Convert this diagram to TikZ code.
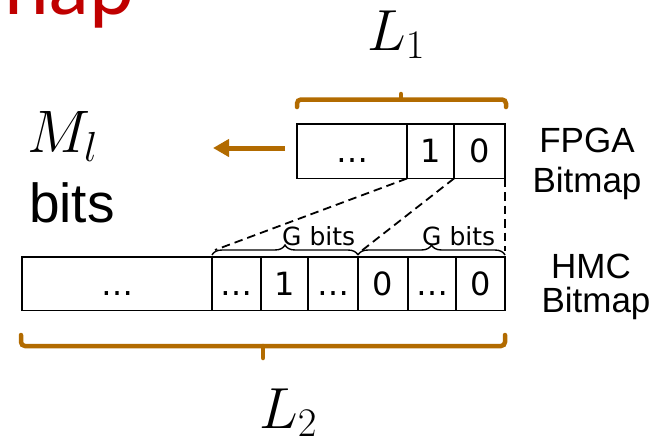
\RequirePackage{fix-cm}
\documentclass[tikz,border=0pt]{standalone}
\usepackage{fontspec}
\newfontfamily\dvs{DejaVu Sans}
\newfontfamily\lib{Liberation Sans}
\newfontfamily\carl{Carlito}
\usetikzlibrary{decorations.pathreplacing,arrows.meta}
\definecolor{obrown}{RGB}{178,107,0}
\definecolor{tred}{RGB}{192,0,0}
\begin{document}
\begin{tikzpicture}[x=1pt,y=-1pt,
  cellbox/.style={draw, line width=1.8pt, inner sep=0pt, outer sep=0pt,
    text height=23.3pt, text depth=0pt, font=\dvs\fontsize{32}{32}\selectfont},
  fcell/.style={cellbox, minimum height=54.5pt},
  hcell/.style={cellbox, minimum height=53.5pt},
  gbrace/.style={decorate, decoration={brace, amplitude=10pt}, line width=1.4pt},
  gbtext/.style={anchor=base west, inner sep=0pt, font=\dvs\fontsize{25}{25}\selectfont},
  dashconn/.style={line width=1.8pt, dash pattern=on 8.5pt off 5pt},
  obr/.style={draw=obrown, line width=4.5pt, rounded corners=4pt, line cap=round},
  lab/.style={anchor=base, inner sep=0pt, font=\lib\fontsize{35}{35}\selectfont},
  mathlab/.style={anchor=base west, inner sep=0pt, font=\fontsize{58}{60}\selectfont}
]
\useasboundingbox (0,0) rectangle (659,442);

% red title fragment
\node[anchor=base west, inner sep=0pt, text=tred, font=\carl\fontsize{85}{85}\selectfont] (title) at (4,14) {nap};

% FPGA bitmap
\node[fcell, minimum width=110pt] (f0) at (352,151.25) {…};
\node[fcell, minimum width=47pt] (f1) at (430.5,151.25) {1};
\node[fcell, minimum width=51pt] (f2) at (479.5,151.25) {0};

% HMC bitmap
\node[hcell, minimum width=190pt] (h0) at (117,283.75) {…};
\node[hcell, minimum width=49pt] (h1) at (236.5,283.75) {…};
\node[hcell, minimum width=47pt] (h2) at (284.5,283.75) {1};
\node[hcell, minimum width=50pt] (h3) at (333,283.75) {…};
\node[hcell, minimum width=50pt] (h4) at (383,283.75) {0};
\node[hcell, minimum width=48pt] (h5) at (432,283.75) {…};
\node[hcell, minimum width=49pt] (h6) at (480.5,283.75) {0};

% G bits braces
\draw[gbrace] ([yshift=2pt]h1.north west) -- ([yshift=2pt]h3.north east);
\draw[gbrace] ([yshift=2pt]h4.north west) -- ([yshift=2pt]h6.north east);
\node[gbtext] (gb1) at (282,245) {G bits};
\node[gbtext] (gb2) at (422,245) {G bits};

% dashed mapping lines
\coordinate (g1end) at (215,250);
\coordinate (g2end) at (360,252);
\coordinate (g3end) at (505,251);
\draw[dashconn] (f1.south west) -- (g1end);
\draw[dashconn] (f2.south west) -- (g2end);
\draw[dashconn] (f2.south east) -- (g3end);

% orange brackets
\draw[obr] (297,107) |- (401,99.5) -| (506,107);
\draw[obr] (401,99.5) -- (401,94);
\draw[obr] (21,335) |- (263,346) -| (505,335);
\draw[obr] (263,346) -- (263,358);

% arrow
\coordinate (arrS) at (285,148);
\coordinate (arrE) at (213,148);
\draw[draw=obrown, line width=5pt, -{Triangle[length=16pt,width=17pt]}] (arrS) -- (arrE);

% labels
\node[mathlab] (L1) at (367,50) {$L_1$};
\node[mathlab] (L2) at (259,428) {$L_2$};
\node[mathlab, font=\fontsize{60}{62}\selectfont] (Ml) at (27,152) {$M_l$};
\node[anchor=base west, inner sep=0pt, font=\lib\fontsize{55}{55}\selectfont] (bits) at (29,222) {bits};

\node[lab] (fpga1) at (587,152) {FPGA};
\node[lab] (fpga2) at (587,192) {Bitmap};
\node[lab] (hmc1) at (591,278) {HMC};
\node[lab] (hmc2) at (596,312) {Bitmap};
\end{tikzpicture}
\end{document}
